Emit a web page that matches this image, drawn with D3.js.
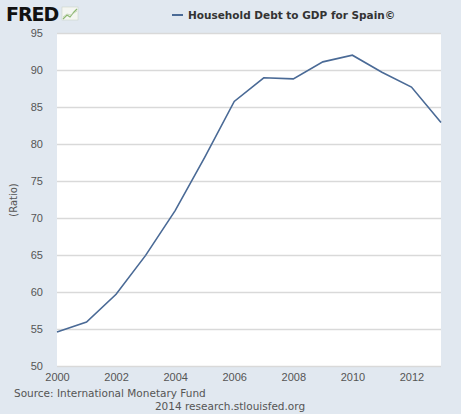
<!DOCTYPE html>
<html>
<head>
<meta charset="utf-8">
<script src="https://cdn.jsdelivr.net/npm/d3@7"></script>
<style>
  body { margin: 0; background: #e1e8f0; }
  svg { display: block; font-family: Verdana, "DejaVu Sans", sans-serif; }
</style>
</head>
<body>
<svg id="chart" width="461" height="414"></svg>
<script>
// Household debt to GDP, Spain (ratio)
const years = [2000, 2001, 2002, 2003, 2004, 2005, 2006, 2007, 2008, 2009, 2010, 2011, 2012, 2013];
const debtRatio = [54.6, 55.95, 59.7, 64.95, 71.0, 78.2, 85.75, 88.95, 88.8, 91.1, 92.0, 89.7, 87.7, 82.9];
const yTicks = [50, 55, 60, 65, 70, 75, 80, 85, 90, 95];
const xTicks = [2000, 2002, 2004, 2006, 2008, 2010, 2012];

const W = 461, H = 414;
const margin = {top: 33, right: 20, bottom: 48, left: 57};

const svg = d3.select('#chart');
svg.append('rect').attr('width', W).attr('height', H).attr('fill', '#e1e8f0');

const x = d3.scaleLinear().domain([2000, 2013]).range([margin.left, W - margin.right]);
const y = d3.scaleLinear().domain([50, 95]).range([H - margin.bottom, margin.top]);

// plot area
svg.append('rect')
    .attr('x', margin.left).attr('y', margin.top)
    .attr('width', x.range()[1] - margin.left)
    .attr('height', y.range()[0] - margin.top)
    .attr('fill', '#fff');

// grid + y labels
let yAxis = d3.axisLeft(y).tickValues(yTicks)
    .tickSize(-(x.range()[1] - margin.left)).tickPadding(14);
let gy = svg.append('g').attr('transform', `translate(${margin.left},0)`).call(yAxis);
gy.select('.domain').remove();
gy.selectAll('line').attr('stroke', '#d9d9d9').attr('stroke-width', 1.3);
gy.selectAll('text').attr('fill', '#555').style('font-size', '11px');

let xAxis = d3.axisBottom(x).tickValues(xTicks).tickFormat(d3.format('d')).tickSize(0).tickPadding(7);
let gx = svg.append('g').attr('transform', `translate(0,${y.range()[0]})`).call(xAxis);
gx.select('.domain').remove();
gx.selectAll('text').attr('fill', '#555').style('font-size', '11px');

// the series
let line = d3.line()
    .x((d, i) => x(years[i]))
    .y(d => y(d));
svg.append('path')
    .datum(debtRatio)
    .attr('d', line)
    .attr('fill', 'none')
    .attr('stroke', '#4a6a96')
    .attr('stroke-width', 1.6);

// y title
svg.append('text')
    .attr('transform', 'translate(17,200) rotate(-90)')
    .attr('text-anchor', 'middle')
    .attr('fill', '#555')
    .style('font-size', '10px')
    .text('(Ratio)');

// legend / title
svg.append('line')
    .attr('x1', 172).attr('x2', 183).attr('y1', 15).attr('y2', 15)
    .attr('stroke', '#4a6a96').attr('stroke-width', 2);
svg.append('text')
    .attr('x', 188).attr('y', 19)
    .attr('fill', '#333')
    .style('font-size', '10.5px')
    .style('font-weight', 'bold')
    .text('Household Debt to GDP for Spain\u00a9');

// FRED logo
svg.append('text')
    .attr('x', 6).attr('y', 21)
    .attr('fill', '#111')
    .style('font-family', '"DejaVu Sans", sans-serif')
    .style('font-size', '19px')
    .style('font-weight', 'bold')
    .style('letter-spacing', '-1px')
    .text('FRED');
let icon = svg.append('g').attr('transform', 'translate(62,7)');
icon.append('rect').attr('width', 16).attr('height', 13).attr('fill', '#f4f6f2').attr('stroke', '#c8d0c0').attr('stroke-width', 0.5);
icon.append('path').attr('d', 'M1,12 L5,8 L8,10 L12,5 L15,2').attr('fill', 'none').attr('stroke', '#8cb870').attr('stroke-width', 1.2);
icon.append('path').attr('d', 'M1,10 L5,7 L9,8 L15,4').attr('fill', 'none').attr('stroke', '#c0d0b0').attr('stroke-width', 0.8);

// footer
svg.append('text')
    .attr('x', 14).attr('y', 397)
    .attr('fill', '#555')
    .style('font-size', '10.5px')
    .text('Source: International Monetary Fund');
svg.append('text')
    .attr('x', 230).attr('y', 410)
    .attr('text-anchor', 'middle')
    .attr('fill', '#555')
    .style('font-size', '10.5px')
    .text('2014 research.stlouisfed.org');
</script>
</body>
</html>
